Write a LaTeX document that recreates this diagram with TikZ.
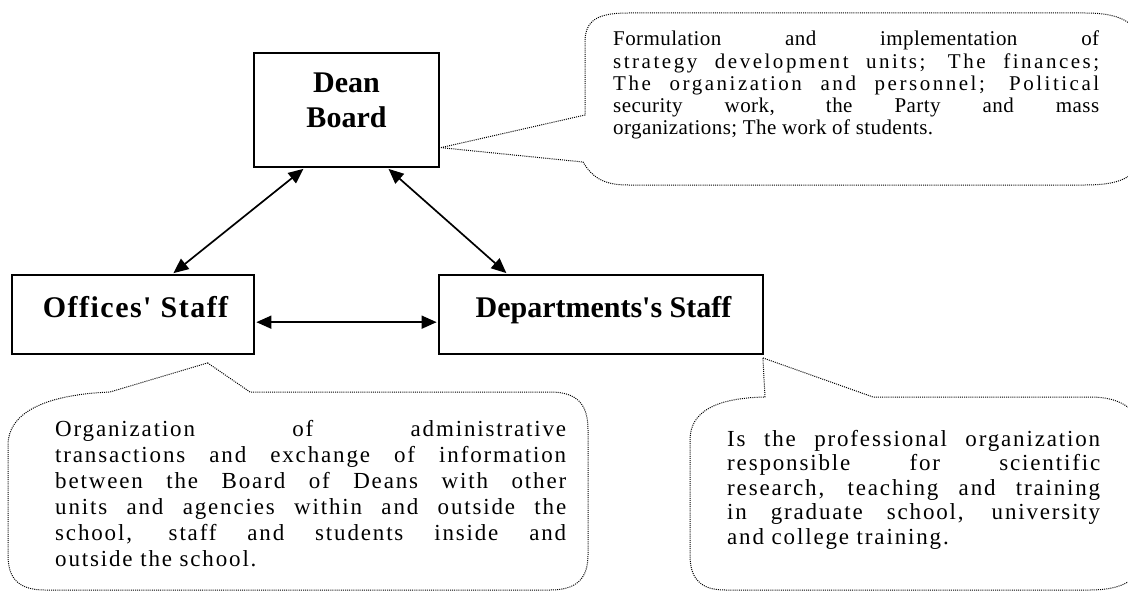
\documentclass[tikz,border=0pt]{standalone}
\usepackage{fontspec}
\setmainfont{Liberation Serif}
\newfontfamily\boxfont{Liberation Serif}[Ligatures=TeXOff]
\newfontfamily\notefont{Liberation Serif}[LetterSpace=2]
\newfontfamily\widenotefont{Liberation Serif}[LetterSpace=8]
\usetikzlibrary{arrows.meta,calc}

% one justified line of a note, optionally with its own tracking
\newcommand{\jline}[2][]{\makebox[\linewidth][s]{%
  \ifx\relax#1\relax\else\addfontfeature{LetterSpace=#1}\fi#2}\\}

\begin{document}
\begin{tikzpicture}[x=1pt,y=-1pt,
  unitbox/.style={draw=black, line width=1.8pt, fill=white,
    font=\boxfont\bfseries\fontsize{30}{35}\selectfont},
  link/.style={{Triangle[length=15pt,width=13pt]}-{Triangle[length=15pt,width=13pt]},
    line width=1.7pt, shorten <=1.5pt, shorten >=1.5pt},
  bubble/.style={draw=black, line width=1pt, dash pattern=on 1pt off 1.1pt,
    line join=round},
  notetext/.style={anchor=base west, inner sep=0pt, text=black}]

\useasboundingbox (0,0) rectangle (1128,594);

% organisational units
\node[unitbox, minimum width=185pt, minimum height=114pt, align=center]
  (dean) at (346.5,110) {Dean\\Board\rule[-19pt]{0pt}{0pt}};
\node[unitbox, minimum width=242pt, minimum height=79pt,
  text height=22pt, text depth=17pt] (off) at (133,314.5)
  {\hspace*{5pt}\addfontfeature{LetterSpace=5}Offices' Staff};
\node[unitbox, minimum width=324pt, minimum height=79pt,
  text height=22pt, text depth=17pt] (dep) at (601,314.5)
  {\hspace*{5pt}Departments's Staff};

% two-way links
\coordinate (deanL) at ($(dean.south west)!0.276!(dean.south east)$);
\coordinate (deanR) at ($(dean.south west)!0.719!(dean.south east)$);
\coordinate (offT)  at ($(off.north west)!0.661!(off.north east)$);
\coordinate (depT)  at ($(dep.north west)!0.213!(dep.north east)$);
\coordinate (offR)  at ($(off.north east)!0.595!(off.south east)$);
\draw[link] (deanL) -- (offT);
\draw[link] (deanR) -- (depT);
\draw[link] (offR) -- (offR -| dep.west);

% callout for the dean board
\coordinate (tip1) at ($(dean.north east)!0.825!(dean.south east)+(1,0)$);
\draw[bubble] (tip1) -- (585,115) -- (585,42)
  .. controls (585,20) and (598,13) .. (628,13) -- (1085,13)
  .. controls (1125,13) and (1142,25) .. (1142,55) -- (1142,145)
  .. controls (1142,175) and (1125,185) .. (1085,185) -- (628,185)
  .. controls (603,185) and (592,177) .. (583,162) -- cycle;

% callout for the offices
\coordinate (tip2) at ($(off.south west)!0.806!(off.south east)+(0,8)$);
\draw[bubble] (tip2) -- (250,392) -- (550,392)
  .. controls (578,392) and (588,405) .. (588,430) -- (588,555)
  .. controls (588,580) and (575,590) .. (550,590) -- (45,590)
  .. controls (18,590) and (8,578) .. (8,555) -- (8,445)
  .. controls (8,415) and (40,395) .. (110,392) -- cycle;

% callout for the departments
\coordinate (tip3) at ($(dep.south east)+(-1,3)$);
\draw[bubble] (tip3) -- (873,397) -- (1090,397)
  .. controls (1122,397) and (1142,410) .. (1142,440) -- (1142,555)
  .. controls (1142,580) and (1122,590) .. (1090,590) -- (725,590)
  .. controls (700,590) and (690,578) .. (690,555) -- (690,440)
  .. controls (690,412) and (715,398) .. (765,397) -- cycle;

% callout texts
\node[notetext] (note1) at (613,46) {\parbox[t]{486pt}{%
  \notefont\fontsize{21}{22.2}\selectfont
  \jline{Formulation and implementation of}
  \jline[12]{strategy development units; The finances;}
  \jline[12]{The organization and personnel; Political}
  \jline{security work, the Party and mass}
  organizations; The work of students.}};

\node[notetext] (note2) at (55,436) {\parbox[t]{511pt}{%
  \widenotefont\fontsize{23}{26}\selectfont
  \jline{Organization of administrative}
  \jline{transactions and exchange of information}
  \jline{between the Board of Deans with other}
  \jline{units and agencies within and outside the}
  \jline{school, staff and students inside and}
  outside the school.}};

\node[notetext] (note3) at (727,446) {\parbox[t]{373pt}{%
  \widenotefont\fontsize{23}{24.5}\selectfont
  \jline{Is the professional organization}
  \jline{responsible for scientific}
  \jline{research, teaching and training}
  \jline{in graduate school, university}
  and college training.}};

\end{tikzpicture}
\end{document}
